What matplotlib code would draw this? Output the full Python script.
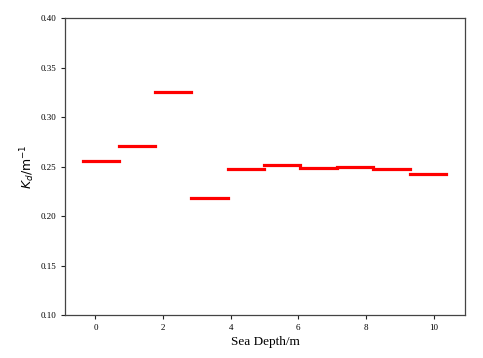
import matplotlib
matplotlib.use('Agg')
import matplotlib.pyplot as plt

# depth bin edges (m) and attenuation coefficient per bin
edges = [-0.38, 0.69, 1.77, 2.84, 3.92, 4.99, 6.06, 7.14, 8.21, 9.29, 10.36]
kd = [0.2553, 0.2704, 0.325, 0.2179, 0.2471, 0.2515, 0.2482, 0.2498, 0.2471, 0.2424]
xticks = [0, 2, 4, 6, 8, 10]
yticks = [0.10, 0.15, 0.20, 0.25, 0.30, 0.35, 0.40]

fig = plt.figure(figsize=(4.83, 3.58), dpi=100)
ax = fig.add_axes([0.1346, 0.1201, 0.8281, 0.8296])

for i in range(len(kd)):
    ax.plot([edges[i], edges[i + 1]], [kd[i], kd[i]], color='red', linewidth=2.3)

ax.set_xlim(-0.9, 10.93)
ax.set_ylim(0.10, 0.40)
ax.set_xticks(xticks)
ax.set_yticks(yticks)
ax.set_xticklabels([str(t) for t in xticks], family='Liberation Serif', fontsize=6.5)
ax.set_yticklabels(['%.2f' % t for t in yticks], family='Liberation Serif', fontsize=6.5)
ax.tick_params(length=3, width=0.8, color='#222222')
for sp in ax.spines.values():
    sp.set_color('#444444')
    sp.set_linewidth(0.9)

ax.set_xlabel('Sea Depth/m', family='Liberation Serif', fontsize=9.5, labelpad=3)
ax.set_ylabel(r'$K_d/\mathrm{m}^{-1}$', fontsize=9, labelpad=2)

fig.savefig('out.png', dpi=100)
